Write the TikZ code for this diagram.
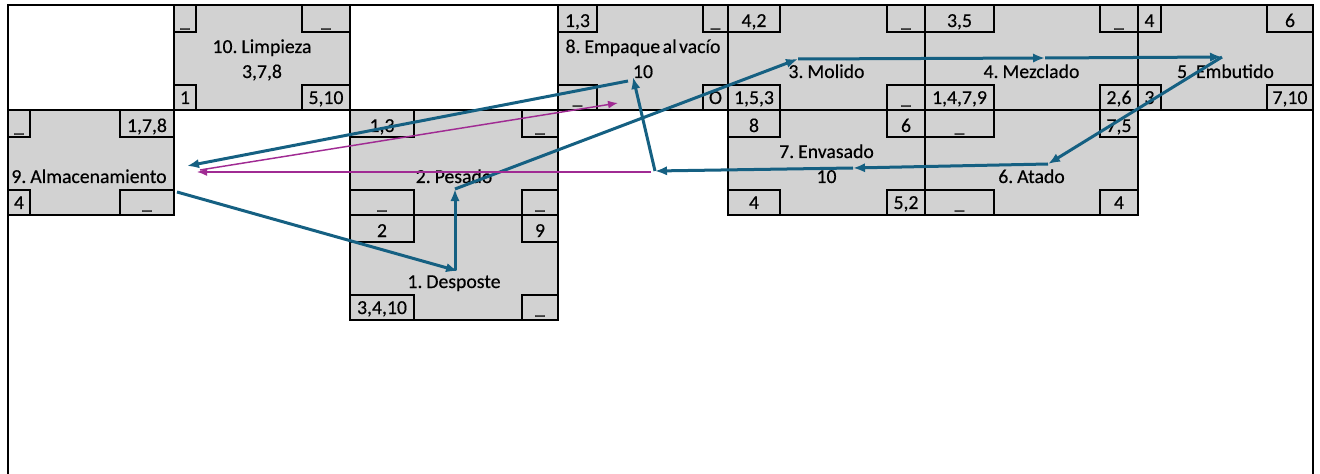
\documentclass[tikz,border=0pt]{standalone}
\usepackage{fontspec}
\setmainfont{Carlito}[WordSpace=0.55,FakeBold=0.35]
\usetikzlibrary{arrows.meta}
\definecolor{flowteal}{HTML}{156082}
\definecolor{flowmag}{HTML}{A02B93}
\definecolor{blockgray}{RGB}{210,210,210}
\newcommand{\pertbox}[6]{%
  \filldraw[blk] (#1,#2) rectangle (#3,#4);
  \draw[cbox] (#1,#2) rectangle (#5,#2+27);
  \draw[cbox] (#6,#2) rectangle (#3,#2+27);
  \draw[cbox] (#1,#4-25) rectangle (#5,#4);
  \draw[cbox] (#6,#4-25) rectangle (#3,#4);
}
\begin{document}
\begin{tikzpicture}[x=0.75pt,y=-0.75pt,
  frameline/.style={draw=black,line width=1.5pt},
  blk/.style={fill=blockgray,draw=black,line width=1.5pt},
  cbox/.style={draw=black,line width=1.5pt},
  lbl/.style={font=\fontsize{14.8}{17}\selectfont,inner sep=0pt,anchor=base},
  tarrow/.style={draw=flowteal,line width=2.25pt,-{Latex[length=9pt,width=7pt]}},
  marrow/.style={draw=flowmag,line width=1.1pt,-{Latex[length=7.5pt,width=6pt]}}]
\useasboundingbox (0,0) rectangle (1320,474);
% frame
\draw[frameline] (8,474) -- (8,5) -- (1313,5) -- (1313,474);
% blocks
\pertbox{174}{5}{350}{110}{196}{302}
\pertbox{8}{110}{174}{215}{30}{120}
\pertbox{558}{5}{728}{110}{597}{703}
\pertbox{728}{5}{925}{110}{780}{887}
\pertbox{925}{5}{1138}{110}{994}{1100}
\pertbox{1138}{5}{1313}{110}{1161}{1267}
\pertbox{350}{110}{558}{215}{414}{522}
\pertbox{728}{110}{925}{215}{780}{887}
\pertbox{925}{110}{1138}{215}{994}{1100}
\pertbox{350}{215}{558}{320}{414}{522}
% block 10
\node[lbl] (t10a) at (262,53) {10. Limpieza};
\node[lbl] (t10b) at (262,78) {3,7,8};
\node[lbl] (c10tl) at (185,27) {\_};
\node[lbl] (c10tr) at (326,27) {\_};
\node[lbl] (c10bl) at (185,104) {1};
\node[lbl] (c10br) at (326,104) {5,10};
% block 9
\node[lbl] (t9) at (89,183) {9. Almacenamiento};
\node[lbl] (c9tl) at (19,132) {\_};
\node[lbl] (c9tr) at (147,132) {1,7,8};
\node[lbl] (c9bl) at (19,209) {4};
\node[lbl] (c9br) at (147,209) {\_};
% block 8
\node[lbl] (t8a) at (643,53) {8. Empaque al vacío};
\node[lbl] (t8b) at (643,78) {10};
\node[lbl] (c8tl) at (577.5,27) {1,3};
\node[lbl] (c8tr) at (715.5,27) {\_};
\node[lbl] (c8bl) at (577.5,104) {\_};
\node[lbl] (c8br) at (715.5,104) {O};
% block 3
\node[lbl] (t3) at (826.5,78) {3. Molido};
\node[lbl] (c3tl) at (754,27) {4,2};
\node[lbl] (c3tr) at (906,27) {\_};
\node[lbl] (c3bl) at (754,104) {1,5,3};
\node[lbl] (c3br) at (906,104) {\_};
% block 4
\node[lbl] (t4) at (1031.5,78) {4. Mezclado};
\node[lbl] (c4tl) at (959.5,27) {3,5};
\node[lbl] (c4tr) at (1119,27) {\_};
\node[lbl] (c4bl) at (959.5,104) {1,4,7,9};
\node[lbl] (c4br) at (1119,104) {2,6};
% block 5
\node[lbl] (t5) at (1225.5,78) {5. Embutido};
\node[lbl] (c5tl) at (1149.5,27) {4};
\node[lbl] (c5tr) at (1290,27) {6};
\node[lbl] (c5bl) at (1149.5,104) {3};
\node[lbl] (c5br) at (1290,104) {7,10};
% block 2
\node[lbl] (t2) at (454,183) {2. Pesado};
\node[lbl] (c2tl) at (382,132) {1,3};
\node[lbl] (c2tr) at (540,132) {\_};
\node[lbl] (c2bl) at (382,209) {\_};
\node[lbl] (c2br) at (540,209) {\_};
% block 7
\node[lbl] (t7a) at (826.5,158) {7. Envasado};
\node[lbl] (t7b) at (826.5,183) {10};
\node[lbl] (c7tl) at (754,132) {8};
\node[lbl] (c7tr) at (906,132) {6};
\node[lbl] (c7bl) at (754,209) {4};
\node[lbl] (c7br) at (906,209) {5,2};
% block 6
\node[lbl] (t6) at (1031.5,183) {6. Atado};
\node[lbl] (c6tl) at (959.5,132) {\_};
\node[lbl] (c6tr) at (1119,132) {7,5};
\node[lbl] (c6bl) at (959.5,209) {\_};
\node[lbl] (c6br) at (1119,209) {4};
% block 1
\node[lbl] (t1) at (454,288) {1. Desposte};
\node[lbl] (c1tl) at (382,237) {2};
\node[lbl] (c1tr) at (540,237) {9};
\node[lbl] (c1bl) at (382,314) {3,4,10};
\node[lbl] (c1br) at (540,314) {\_};
% connector points
\coordinate (p9out) at (177,192);
\coordinate (p1in) at (458,271);
\coordinate (p1up) at (455,270);
\coordinate (p2in) at (455,189);
\coordinate (p3in) at (798,59);
\coordinate (p4in) at (1045,58);
\coordinate (p5in) at (1222,57);
\coordinate (p6in) at (1048,164);
\coordinate (p7in) at (853,168);
\coordinate (pmid) at (655,171);
\coordinate (p8in) at (633,77);
\coordinate (p8out) at (628,81);
\coordinate (p9in) at (187,166);
\coordinate (mstart) at (651,172);
\coordinate (m9in) at (197,172);
\coordinate (m9out) at (200,170);
\coordinate (m8in) at (618,103);
% teal arrows
\draw[tarrow] (p9out) -- (p1in);
\draw[tarrow] (p1up) -- (p2in);
\draw[tarrow] (p2in) -- (p3in);
\draw[tarrow] (p3in) -- (p4in);
\draw[tarrow] (p4in) -- (p5in);
\draw[tarrow] (p5in) -- (p6in);
\draw[tarrow] (p6in) -- (p7in);
\draw[tarrow] (p7in) -- (pmid);
\draw[tarrow] (pmid) -- (p8in);
\draw[tarrow] (p8out) -- (p9in);
% magenta arrows
\draw[marrow] (mstart) -- (m9in);
\draw[marrow] (m9out) -- (m8in);
\end{tikzpicture}
\end{document}
